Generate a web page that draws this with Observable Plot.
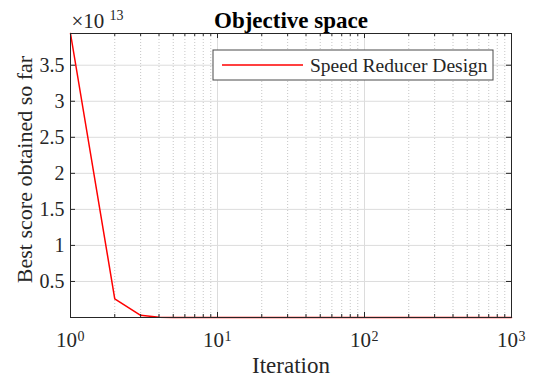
<!DOCTYPE html>
<html>
<head>
<meta charset="utf-8">
<script src="https://cdn.jsdelivr.net/npm/d3@7"></script>
<script src="https://cdn.jsdelivr.net/npm/@observablehq/plot@0.6"></script>
<style>
  html, body { margin: 0; padding: 0; background: #fff; }
  #chart { width: 533px; height: 378px; }
</style>
</head>
<body>
<div id="chart"></div>
<script>
// ---- data ----
const iterations = [1, 2, 3, 4, 5, 6, 7, 8, 10, 15, 20, 30, 50, 100, 200, 500, 1000];
const bestScore  = [3.94e13, 2.6e12, 3.0e11, 2.0e10, 1.5e9, 2.0e8, 5.0e7, 1.0e7, 1.0e6, 1.0e5, 2.0e4, 5000, 3100, 3000, 2996, 2995, 2994];
const seriesName = "Speed Reducer Design";
const xMajorTicks = [1, 10, 100, 1000];
const xTickExponents = ["0", "1", "2", "3"];
const xMinorTicks = [2,3,4,5,6,7,8,9, 20,30,40,50,60,70,80,90, 200,300,400,500,600,700,800,900];
const yTicks = [0.5e13, 1e13, 1.5e13, 2e13, 2.5e13, 3e13, 3.5e13];
const yTickLabels = ["0.5", "1", "1.5", "2", "2.5", "3", "3.5"];
const yExponentBase = "\u00d710";
const yExponent = "13";
const titleText = "Objective space";
const xLabel = "Iteration";
const yLabel = "Best score obtained so far";

const data = iterations.map((it, i) => ({it, v: bestScore[i]}));
const serif = '"Liberation Serif", "Times New Roman", serif';
const axisColor = "#262626";
const plotH = 378 - 33 - 61;
const T = {fontFamily: serif, fill: axisColor, lineAnchor: "middle"};

const chart = Plot.plot({
  width: 533,
  height: 378,
  marginTop: 33,
  marginLeft: 70,
  marginRight: 22,
  marginBottom: 61,
  style: {fontFamily: serif, fontSize: "20px", color: axisColor, background: "#fff"},
  x: {type: "log", domain: [1, 1000], axis: null},
  y: {domain: [0, 3.94e13], axis: null},
  marks: [
    // grid
    Plot.ruleX(xMinorTicks, {stroke: "#b8b8b8", strokeWidth: 0.8, strokeDasharray: "1,2"}),
    Plot.ruleX(xMajorTicks.slice(1, -1), {stroke: "#dcdcdc", strokeWidth: 1}),
    Plot.ruleY(yTicks, {stroke: "#dcdcdc", strokeWidth: 1}),
    // series
    Plot.line(data, {x: "it", y: "v", stroke: "#ff0000", strokeWidth: 1.5}),
    // frame
    Plot.frame({stroke: axisColor, strokeWidth: 1}),
    // inward ticks: bottom & top
    Plot.tickX(xMajorTicks, {x: d => d, stroke: axisColor, insetTop: plotH - 5}),
    Plot.tickX(xMajorTicks, {x: d => d, stroke: axisColor, insetBottom: plotH - 5}),
    Plot.tickX(xMinorTicks, {x: d => d, stroke: axisColor, insetTop: plotH - 3}),
    Plot.tickX(xMinorTicks, {x: d => d, stroke: axisColor, insetBottom: plotH - 3}),
    // inward ticks: left & right
    Plot.tickY(yTicks, {y: d => d, stroke: axisColor, insetRight: 441 - 5}),
    Plot.tickY(yTicks, {y: d => d, stroke: axisColor, insetLeft: 441 - 5}),
    // x tick labels (10^n)
    Plot.text(xMajorTicks, {...T, x: d => d, text: () => "10", frameAnchor: "bottom", dy: 23, dx: -4, fontSize: 21}),
    Plot.text(xMajorTicks, {...T, x: d => d, text: (d, i) => xTickExponents[i], frameAnchor: "bottom", dy: 19, dx: 7, textAnchor: "start", fontSize: 14}),
    // y tick labels
    Plot.text(yTicks, {...T, y: d => d, text: (d, i) => yTickLabels[i], frameAnchor: "left", textAnchor: "end", dx: -6, fontSize: 20}),
    // exponent multiplier
    Plot.text([yExponentBase], {...T, text: d => d, frameAnchor: "top-left", textAnchor: "start", dx: 1, dy: -12, fontSize: 21}),
    Plot.text([yExponent], {...T, text: d => d, frameAnchor: "top-left", textAnchor: "start", dx: 39, dy: -18, fontSize: 14}),
    // title
    Plot.text([titleText], {...T, text: d => d, frameAnchor: "top", dy: -13, fontSize: 23, fontWeight: "bold", fill: "#000"}),
    // axis labels
    Plot.text([xLabel], {...T, text: d => d, frameAnchor: "bottom", dy: 48, fontSize: 23}),
    Plot.text([yLabel], {...T, text: d => d, frameAnchor: "left", textAnchor: "middle", rotate: -90, dx: -46, dy: -6, fontSize: 22})
  ]
});

// legend inside the axes (top-right)
const svg = d3.select(chart);
const lg = svg.append("g").attr("transform", "translate(213,50)");
lg.append("rect").attr("width", 280).attr("height", 30).attr("fill", "#fff").attr("stroke", "#4a4a4a").attr("stroke-width", 1);
lg.append("line").attr("x1", 9).attr("x2", 90).attr("y1", 15).attr("y2", 15).attr("stroke", "#ff0000").attr("stroke-width", 1.5);
lg.append("text").attr("x", 97).attr("y", 15).attr("dy", "0.35em").attr("text-anchor", "start")
  .attr("font-family", serif).attr("font-size", 19.5).attr("fill", axisColor).text(seriesName);

document.getElementById("chart").appendChild(chart);
</script>
</body>
</html>
